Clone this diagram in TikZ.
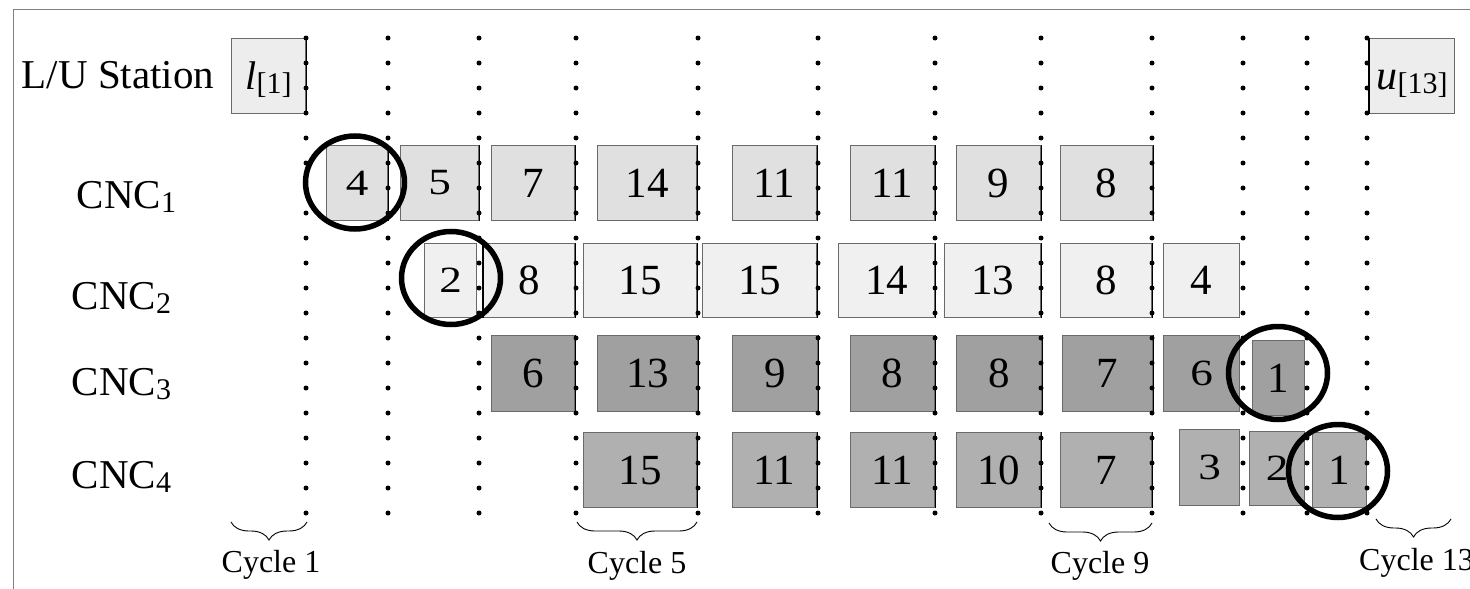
\documentclass[tikz,border=0pt]{standalone}
\usepackage{graphicx}
\usepackage{fontspec}
\setmainfont{Liberation Serif}
\usetikzlibrary{decorations.pathreplacing}

\definecolor{lufill}{HTML}{EDEDED}
\definecolor{cncone}{HTML}{E0E0E0}
\definecolor{cnctwo}{HTML}{F0F0F0}
\definecolor{cncthree}{HTML}{A0A0A0}
\definecolor{cncfour}{HTML}{B0B0B0}
\definecolor{edge}{HTML}{6A6A6A}
\definecolor{framecol}{HTML}{808080}

% widened digits for the narrow operation boxes
\newcommand\narrowdigit[1]{\fontsize{37}{37}\selectfont\scalebox{1.22}[1]{#1}}
% operation box: name, left x, top y, width, height, fill, text
\newcommand\jobbox[7]{%
  \node[job, fill=#6, minimum width=#4pt, minimum height=#5pt] (#1) at (#2,#3) {#7};}
% machine label with lowered index
\newcommand\machine[1]{CNC\raisebox{-4.5pt}{\fontsize{30}{30}\selectfont #1}}

\begin{document}
\begin{tikzpicture}[x=1pt,y=-1pt,
  job/.style={draw=edge, line width=1.1pt, inner sep=0pt, anchor=north west,
              font=\fontsize{43}{43}\selectfont},
  ring/.style={draw=black, line width=5.5pt},
  rowlabel/.style={anchor=base west, inner sep=0pt, font=\fontsize{41}{41}\selectfont},
  cyclabel/.style={anchor=base, inner sep=0pt, font=\fontsize{32}{32}\selectfont},
  curly/.style={decorate, decoration={brace, mirror, amplitude=18pt}, line width=0.9pt},
  blackedge/.style={draw=black, line width=1.1pt}]

\useasboundingbox (0,0) rectangle (1470,589);

% outer frame (only the top and left sides fall inside the page)
\draw[framecol, line width=1.3pt] (13.3,589) -- (13.3,9.3) -- (1470,9.3);

% row labels
\node[rowlabel] (lu) at (21.7,88.3) {L/U Station};
\node[rowlabel] (m1) at (76.7,208.3) {\machine{1}};
\node[rowlabel] (m2) at (71.7,309) {\machine{2}};
\node[rowlabel] (m3) at (71.7,395) {\machine{3}};
\node[rowlabel] (m4) at (71.7,488.3) {\machine{4}};

% load / unload station boxes
\node[job, fill=lufill, minimum width=74pt, minimum height=75pt,
      text height=30pt, text depth=2.4pt, font=\fontsize{40}{40}\selectfont] (load) at (231,38)
      {\textit{l}\raisebox{-4pt}{\fontsize{30}{30}\selectfont[1]}};
\node[job, fill=lufill, minimum width=85pt, minimum height=75pt,
      text height=30pt, text depth=2.4pt, font=\fontsize{42}{42}\selectfont] (unload) at (1369,38)
      {\textit{u}\raisebox{-4pt}{\fontsize{30}{30}\selectfont[13]}};

% CNC 1
\jobbox{a1}{326}{145}{61}{75}{cncone}{\narrowdigit{4}}
\jobbox{b1}{400}{145}{78}{75}{cncone}{\narrowdigit{5}}
\jobbox{c1}{491}{145}{83}{75}{cncone}{7}
\jobbox{d1}{597}{145}{99}{75}{cncone}{14}
\jobbox{e1}{732}{145}{84}{75}{cncone}{11}
\jobbox{f1}{850}{145}{84}{75}{cncone}{11}
\jobbox{g1}{956}{145}{84}{75}{cncone}{9}
\jobbox{h1}{1060}{145}{92}{75}{cncone}{8}

% CNC 2
\jobbox{a2}{424}{243}{52}{74}{cnctwo}{\narrowdigit{2}}
\jobbox{b2}{483}{243}{91}{74}{cnctwo}{8}
\jobbox{c2}{583}{243}{113}{74}{cnctwo}{15}
\jobbox{d2}{702}{243}{114}{74}{cnctwo}{15}
\jobbox{e2}{838}{243}{96}{74}{cnctwo}{14}
\jobbox{f2}{944}{243}{96}{74}{cnctwo}{13}
\jobbox{g2}{1060}{243}{91}{74}{cnctwo}{8}
\jobbox{h2}{1163}{243}{76}{74}{cnctwo}{4}

% CNC 3
\jobbox{a3}{491}{335}{83}{76}{cncthree}{6}
\jobbox{b3}{597}{335}{100}{76}{cncthree}{13}
\jobbox{c3}{732}{335}{85}{76}{cncthree}{9}
\jobbox{d3}{850}{335}{84}{76}{cncthree}{8}
\jobbox{e3}{956}{335}{85}{76}{cncthree}{8}
\jobbox{f3}{1062}{335}{90}{76}{cncthree}{7}
\jobbox{g3}{1163}{335}{76}{76}{cncthree}{\narrowdigit{6}}
\jobbox{h3}{1252}{340}{52}{75}{cncthree}{1}

% CNC 4
\jobbox{a4}{583}{432}{113}{75}{cncfour}{15}
\jobbox{b4}{732}{432}{84}{75}{cncfour}{11}
\jobbox{c4}{850}{432}{84}{75}{cncfour}{11}
\jobbox{d4}{956}{432}{84}{75}{cncfour}{10}
\jobbox{e4}{1060}{432}{91}{75}{cncfour}{7}
\jobbox{f4}{1179}{429}{60}{76}{cncfour}{\narrowdigit{3}}
\jobbox{g4}{1249}{431}{55}{74}{cncfour}{\narrowdigit{2}}
\jobbox{h4}{1312}{432}{54}{75}{cncfour}{1}

% box sides lying on a cycle boundary
\foreach \b in {load,a1,b1,c1,d1,e1,f1,g1,h1,b2,c2,d2,e2,f2,g2,a3,b3,c3,d3,e3,f3,a4,b4,c4,d4,e4}
  \draw[blackedge] (\b.north east) -- (\b.south east);
\draw[blackedge] (unload.north west) -- (unload.south west);
\draw[blackedge] (b2.north west) -- (b2.south west);

% dotted cycle boundaries
\foreach \x in {306,388,479,576,698,818,935,1041,1152,1243,1307,1367}
  \foreach \y in {38,63,...,513}
    \fill (\x,\y) circle[radius=2.5pt];

% highlighted operations
\draw[ring] (355,182.5) ellipse[x radius=49.5, y radius=46.5];
\draw[ring] (451,278) ellipse[x radius=49.5, y radius=46.5];
\draw[ring] (1278,373) ellipse[x radius=49.5, y radius=46.5];
\draw[ring] (1338,471) ellipse[x radius=49.5, y radius=46.5];

% cycle braces and their labels
\coordinate (k1a) at (231,522);  \coordinate (k1b) at (307,522);
\coordinate (k5a) at (577,522);  \coordinate (k5b) at (697,522);
\coordinate (k9a) at (1049,523); \coordinate (k9b) at (1152,523);
\coordinate (k13a) at (1376,519); \coordinate (k13b) at (1451,519);
\draw[curly] (k1a) -- (k1b);
\draw[curly] (k5a) -- (k5b);
\draw[curly] (k9a) -- (k9b);
\draw[curly] (k13a) -- (k13b);
\node[cyclabel] (c1lbl) at (271,572) {Cycle 1};
\node[cyclabel] (c5lbl) at (637,573) {Cycle 5};
\node[cyclabel] (c9lbl) at (1100,573) {Cycle 9};
\node[cyclabel, anchor=base west] (c13lbl) at (1359,570) {Cycle 13};
\end{tikzpicture}
\end{document}
